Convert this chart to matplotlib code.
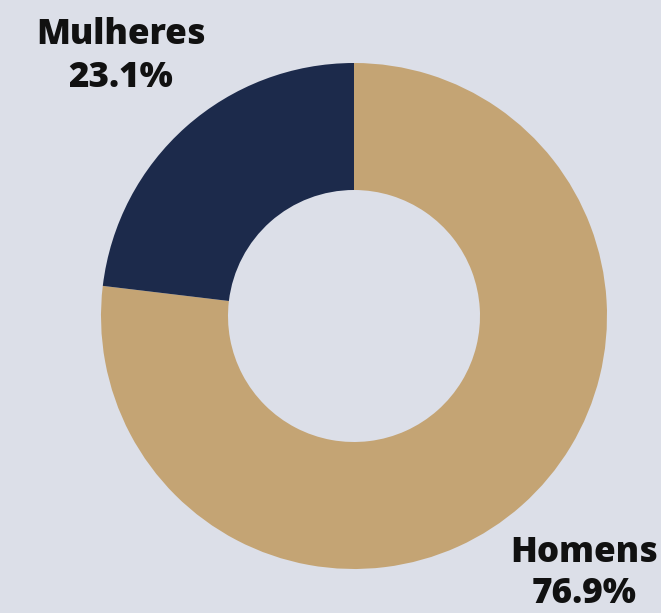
import matplotlib.pyplot as plt

labels = ["Homens", "Mulheres"]
shares = [76.9, 23.1]
colors = ["#c4a474", "#1c2a4b"]

W, H = 661, 613
fig = plt.figure(figsize=(W / 100, H / 100), dpi=100)
fig.patch.set_facecolor("#dcdfe8")
ax = fig.add_axes([0, 0, 1, 1])
ax.set_facecolor("#dcdfe8")

# pixel-space axes so the donut lands where the reference has it
ax.pie(shares, colors=colors, startangle=90, counterclock=False,
       radius=253, center=(354, H - 316),
       wedgeprops=dict(width=127, edgecolor="none"))
ax.set_xlim(0, W)
ax.set_ylim(0, H)
ax.set_aspect("equal")
ax.axis("off")

font = dict(family=["Open Sans", "DejaVu Sans"], fontweight="heavy",
            fontsize=25.2, color="#111111", ha="center", va="baseline")
ax.text(121, H - 44, labels[1], **font)
ax.text(121, H - 87, f"{shares[1]}%", **font)
ax.text(584, H - 562, labels[0], **font)
ax.text(584, H - 603, f"{shares[0]}%", **font)

fig.savefig("out.png", dpi=100, facecolor=fig.get_facecolor())
